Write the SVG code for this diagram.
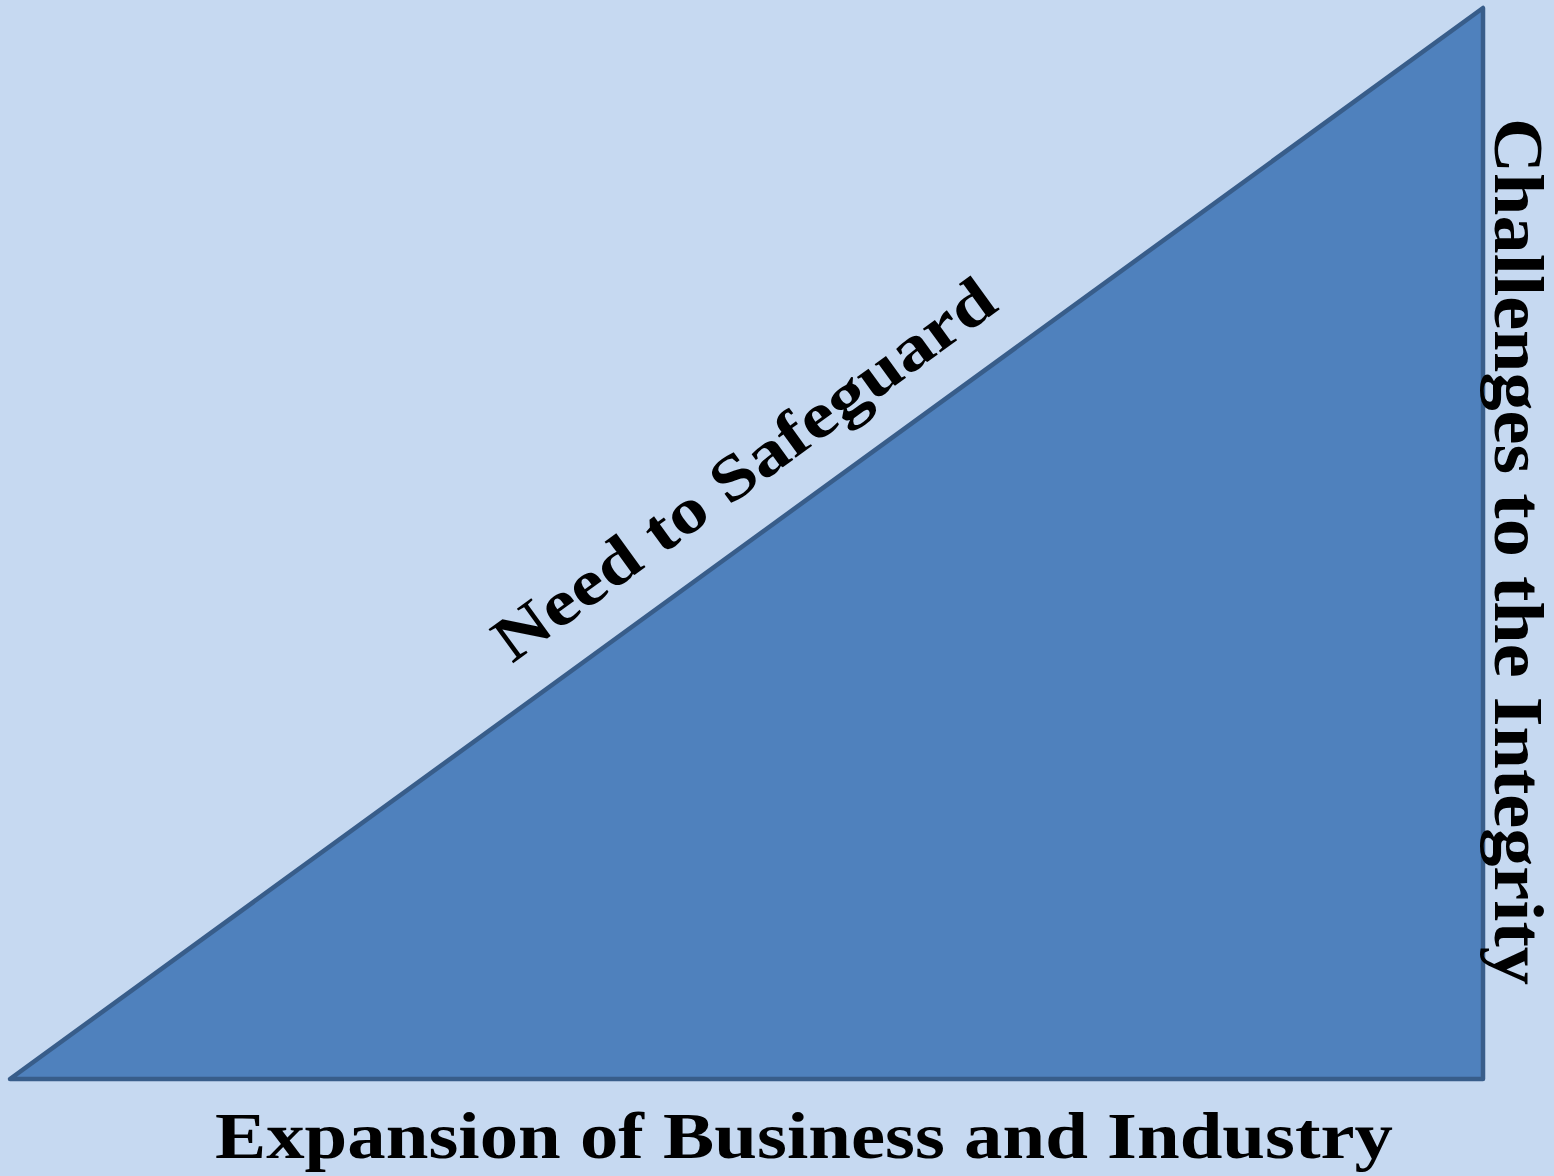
<svg xmlns="http://www.w3.org/2000/svg" width="1554" height="1176" viewBox="0 0 1554 1176">
<style>
.lbl{font-family:"Liberation Serif","Times New Roman",serif;font-weight:bold;fill:#000}
</style>
<rect width="1554" height="1176" fill="#C6D9F1"/>
<g id="triangle">
<polygon points="10,1079 1483,8 1483,1079" fill="#4F81BD" stroke="#385D8A" stroke-width="4.5" stroke-linejoin="round"/>
</g>
<g id="label-bottom">
<text class="lbl" x="215" y="1158" font-size="66" textLength="1178" lengthAdjust="spacingAndGlyphs">Expansion of Business and Industry</text>
</g>
<g id="label-right">
<text class="lbl" font-size="69" transform="translate(1495,118) rotate(90)" textLength="867" lengthAdjust="spacingAndGlyphs">Challenges to the Integrity</text>
</g>
<g id="label-hyp">
<text class="lbl" font-size="64" transform="translate(512,664) rotate(-36.02)" textLength="604" lengthAdjust="spacingAndGlyphs">Need to Safeguard</text>
</g>
<g id="connectors"></g>
</svg>
